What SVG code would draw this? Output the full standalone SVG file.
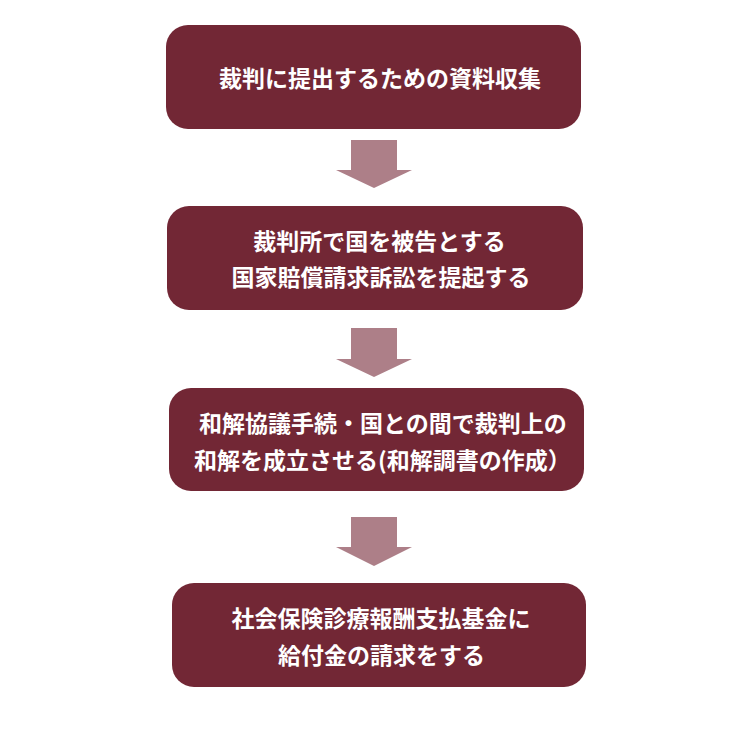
<svg xmlns="http://www.w3.org/2000/svg" width="750" height="736" viewBox="0 0 750 736">
<style>
.box{fill:#722735}
.arr{fill:#ad7f88}
.t{fill:#ffffff;font-family:"Noto Sans CJK JP","Noto Sans CJK SC",sans-serif;font-size:23px;font-weight:bold}
</style>
<rect width="750" height="736" fill="#ffffff"/>
<g id="connectors">
<polygon class="arr" points="351,140 397,140 397,170 412,170 374,188 336,170 351,170"/>
<polygon class="arr" points="351,328 397,328 397,359 412,359 374,377 336,359 351,359"/>
<polygon class="arr" points="351,517 397,517 397,547 412,547 374,566 336,547 351,547"/>
</g>
<g id="node1">
<rect class="box" x="166" y="25" width="415" height="104" rx="22"/>
<text class="t" x="380" y="86.5" text-anchor="middle">裁判に提出するための資料収集</text>
</g>
<g id="node2">
<rect class="box" x="167" y="206" width="416" height="104" rx="22"/>
<text class="t" x="379.5" y="249.5" text-anchor="middle">裁判所で国を被告とする</text>
<text class="t" x="381" y="285.5" text-anchor="middle">国家賠償請求訴訟を提起する</text>
</g>
<g id="node3">
<rect class="box" x="169" y="388" width="415" height="103" rx="22"/>
<text class="t" x="199" y="431.5">和解協議手続・国との間で裁判上の</text>
<text class="t" x="194" y="468.5">和解を成立させる(和解調書の作成）</text>
</g>
<g id="node4">
<rect class="box" x="172" y="583" width="414" height="104" rx="22"/>
<text class="t" x="381" y="626.5" text-anchor="middle">社会保険診療報酬支払基金に</text>
<text class="t" x="381.5" y="663.5" text-anchor="middle">給付金の請求をする</text>
</g>
</svg>
